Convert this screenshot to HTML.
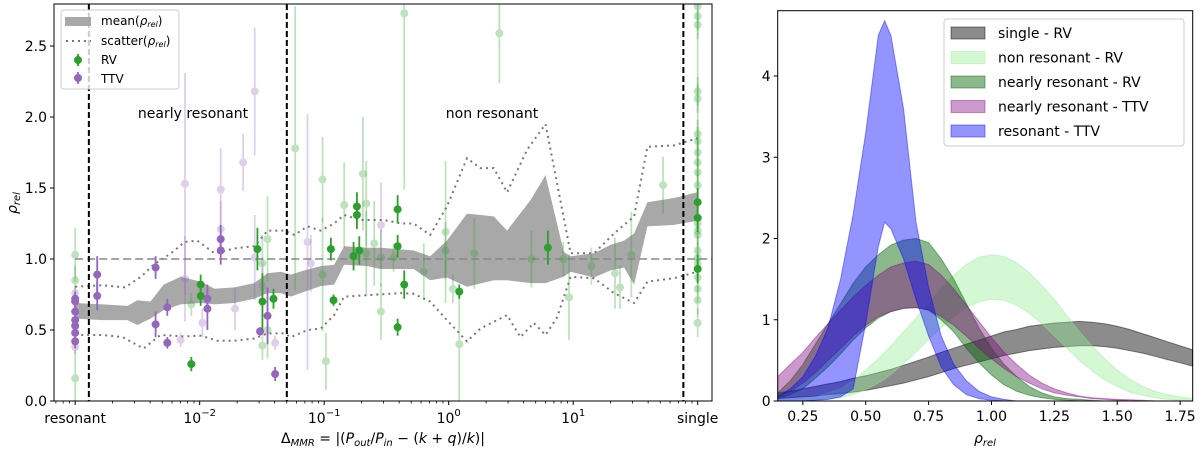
<!DOCTYPE html>
<html><head><meta charset="utf-8"><style>
body{margin:0;background:#fff}
svg{display:block;font-family:"DejaVu Sans","Liberation Sans",sans-serif}
</style></head><body>
<svg id="fig" width="1200" height="451" viewBox="0 0 1200 451" xmlns="http://www.w3.org/2000/svg">
<g id="left"></g>
<g id="right"></g>
</svg>
<script>
// ---------- LEFT PANEL DATA ----------
const bandX=[-3.0,-2.78,-2.58,-2.5,-2.395,-2.29,-2.153,-1.99,-1.88,-1.723,-1.562,-1.455,-1.347,-1.267,-1.16,-1.027,-0.92,-0.84,-0.65,-0.55,-0.282,-0.148,-0.014,0.147,0.362,0.469,0.657,0.778,0.925,0.979,1.167,1.301,1.408,1.489,1.596,1.81,1.998];
const bandHi=[0.69,0.68,0.67,0.71,0.70,0.82,0.875,0.84,0.79,0.80,0.83,0.90,0.91,0.89,0.92,0.95,0.96,1.09,1.08,1.08,1.06,1.02,1.13,1.32,1.30,1.20,1.415,1.59,1.05,1.02,1.04,1.10,1.13,1.18,1.40,1.43,1.47];
const bandLo=[0.58,0.57,0.57,0.535,0.58,0.64,0.68,0.69,0.68,0.69,0.72,0.76,0.76,0.735,0.77,0.81,0.82,0.96,0.95,0.93,0.93,0.85,0.87,0.805,0.85,0.85,0.83,0.83,0.875,0.91,0.87,0.92,0.94,0.82,1.23,1.24,1.27];
const scHiX=[-3.0,-2.78,-2.6,-2.47,-2.37,-2.23,-2.12,-2.02,-1.88,-1.72,-1.56,-1.455,-1.32,-1.24,-1.133,-1.027,-0.92,-0.84,-0.71,-0.52,-0.38,-0.282,-0.148,-0.014,0.147,0.254,0.362,0.469,0.63,0.778,0.872,0.979,1.167,1.328,1.489,1.596,1.81,1.998];
const scHi=[0.805,0.815,0.8,0.876,0.96,1.04,1.12,1.13,1.04,1.075,1.09,1.20,1.20,1.17,1.23,1.20,1.25,1.31,1.275,1.275,1.25,1.25,1.17,1.37,1.71,1.64,1.64,1.47,1.77,1.95,1.53,1.04,1.04,1.18,1.30,1.79,1.80,1.85];
const scLoX=[-3.0,-2.78,-2.62,-2.45,-2.316,-2.13,-1.99,-1.86,-1.72,-1.56,-1.455,-1.32,-1.267,-1.133,-1.027,-0.92,-0.84,-0.65,-0.383,-0.282,-0.148,-0.014,0.147,0.254,0.469,0.576,0.684,0.778,0.872,0.979,1.167,1.328,1.489,1.596,1.81,1.998];
const scLo=[0.465,0.465,0.45,0.37,0.465,0.455,0.46,0.425,0.425,0.44,0.476,0.476,0.45,0.50,0.51,0.605,0.735,0.745,0.76,0.755,0.70,0.57,0.42,0.51,0.605,0.45,0.55,0.465,0.59,0.875,0.865,0.76,0.69,0.84,0.865,0.91];
// points: log10(Δ), rho, error, kind, faded
const ptX=[-3,-3,-3,-3,-3,-3,-3,-3,-3,-3,-3,-3,-2.823,-2.823,-2.354,-2.354,-2.26,-2.26,-2.153,-2.118,-2.118,-2.067,-2.067,-1.992,-1.992,-1.978,-1.938,-1.938,-1.831,-1.831,-1.831,-1.831,-1.716,-1.651,-1.558,-1.558,-1.536,-1.515,-1.496,-1.496,-1.496,-1.496,-1.455,-1.455,-1.455,-1.407,-1.394,-1.394,-1.233,-1.134,-1.107,-1.013,-1.013,-0.986,-0.946,-0.925,-0.839,-0.764,-0.737,-0.737,-0.718,-0.689,-0.662,-0.662,-0.598,-0.544,-0.544,-0.544,-0.41,-0.41,-0.41,-0.443,-0.357,-0.357,-0.2,-0.025,-0.025,0.034,0.085,0.085,0.206,0.407,0.665,0.797,0.92,0.966,1.146,1.336,1.376,1.467,1.722,2,2,2,2,2,2,2,2,2,2,2,2,2,2,2,2,2,2,2,2,2,2,2,2];
const ptY=[1.03,0.85,0.16,0.72,0.70,0.63,0.57,0.53,0.48,0.42,0.76,0.38,0.89,0.74,0.94,0.54,0.66,0.41,0.43,1.53,0.86,0.68,0.26,0.82,0.74,0.55,0.72,0.65,1.49,1.21,1.14,1.06,0.65,1.68,2.18,1.01,1.07,0.49,0.81,0.97,0.70,0.39,1.14,0.60,0.50,0.72,0.41,0.19,1.78,1.12,0.97,0.89,1.56,0.28,1.07,0.71,1.38,1.02,1.31,1.37,1.06,1.60,1.39,1.04,1.11,1.01,1.24,0.63,1.35,1.09,0.52,1.01,2.73,0.82,0.91,1.19,1.06,0.79,0.77,0.40,1.04,2.59,1.0,1.08,1.0,0.73,0.95,0.90,0.80,1.03,1.52,2.78,2.71,2.65,2.18,2.13,1.88,1.83,1.75,1.68,1.61,1.52,1.40,1.29,1.25,1.20,1.17,1.06,1.01,0.97,0.93,0.87,0.79,0.71,0.55];
const ptErr=[0.19,0.1,0.2,0.05,0.05,0.05,0.05,0.05,0.05,0.05,0.05,0.05,0.13,0.1,0.08,0.09,0.06,0.04,0.05,0.78,0.3,0.08,0.05,0.07,0.07,0.1,0.1,0.15,0.29,0.2,0.1,0.1,0.15,0.2,0.45,0.3,0.15,0.03,0.2,0.2,0.2,0.1,0.3,0.2,0.2,0.07,0.05,0.05,1.0,0.9,0.2,0.4,0.3,0.2,0.08,0.04,0.3,0.1,0.1,0.1,0.1,0.4,0.3,0.3,0.3,0.2,0.3,0.2,0.1,0.08,0.06,0.1,1.24,0.1,0.2,0.5,0.2,0.1,0.05,0.4,0.25,0.35,0.2,0.12,0.12,0.3,0.13,0.25,0.15,0.3,0.2,1.3,0.1,0.1,0.1,0.1,0.1,0.1,0.1,0.1,0.1,0.1,0.1,0.1,0.1,0.1,0.1,0.1,0.1,0.1,0.1,0.1,0.1,0.1,0.1];
const ptKind=["RV","RV","RV","TTV","TTV","TTV","TTV","TTV","TTV","TTV","TTV","TTV","TTV","TTV","TTV","TTV","TTV","TTV","TTV","TTV","TTV","RV","RV","RV","RV","TTV","TTV","TTV","TTV","TTV","TTV","TTV","TTV","TTV","TTV","TTV","RV","TTV","TTV","RV","RV","RV","RV","TTV","RV","RV","TTV","TTV","RV","TTV","TTV","RV","RV","RV","RV","RV","RV","RV","RV","RV","RV","RV","RV","RV","RV","RV","TTV","RV","RV","RV","RV","RV","RV","RV","RV","RV","RV","RV","RV","RV","RV","RV","RV","RV","RV","RV","RV","RV","RV","RV","RV","RV","RV","RV","RV","RV","RV","RV","RV","RV","RV","RV","RV","RV","RV","RV","RV","RV","RV","RV","RV","RV","RV","RV","RV"];
const ptFaded=[1,1,1,0,0,0,0,0,0,0,1,1,0,0,0,0,0,0,1,1,1,1,0,0,0,1,0,0,1,1,0,0,1,1,1,1,0,0,1,1,0,1,1,0,1,0,1,0,1,1,1,1,1,1,0,0,1,0,0,0,0,1,1,1,1,1,1,1,0,0,0,1,1,0,1,1,1,1,0,1,1,1,1,0,1,1,1,1,1,1,1,1,1,1,1,1,1,1,1,1,1,1,0,0,1,1,1,1,1,1,0,1,1,1,1];
const xTickLog=[-3,-2,-1,0,1,2];
const xTickLbl=["resonant","10<tspan dy='-7' font-size='10'>−2</tspan>","10<tspan dy='-7' font-size='10'>−1</tspan>","10<tspan dy='-7' font-size='10'>0</tspan>","10<tspan dy='-7' font-size='10'>1</tspan>","single"];
const yTicks=[0,0.5,1.0,1.5,2.0,2.5];
const vLines=[-2.89,-1.30,1.885];

// ---------- RIGHT PANEL DATA ----------
const rx=[0.15,0.2,0.25,0.3,0.35,0.4,0.45,0.5,0.55,0.575,0.6,0.65,0.7,0.75,0.8,0.85,0.9,0.95,1.0,1.05,1.1,1.15,1.2,1.25,1.3,1.35,1.4,1.45,1.5,1.55,1.6,1.65,1.7,1.75,1.8];
const singleHi=[0.1,0.12,0.15,0.18,0.21,0.24,0.28,0.31,0.35,0.37,0.39,0.44,0.49,0.54,0.6,0.65,0.7,0.75,0.8,0.85,0.88,0.92,0.94,0.96,0.97,0.98,0.97,0.95,0.92,0.88,0.83,0.78,0.73,0.68,0.63];
const singleLo=[0.03,0.04,0.05,0.06,0.08,0.09,0.11,0.13,0.16,0.175,0.19,0.22,0.26,0.3,0.35,0.4,0.44,0.48,0.52,0.56,0.59,0.62,0.64,0.66,0.67,0.68,0.68,0.67,0.65,0.62,0.59,0.55,0.51,0.47,0.43];
const nonHi=[0.02,0.03,0.04,0.05,0.1,0.15,0.25,0.38,0.52,0.6,0.68,0.85,1.02,1.2,1.38,1.55,1.68,1.77,1.8,1.78,1.7,1.58,1.42,1.25,1.05,0.85,0.68,0.52,0.38,0.27,0.18,0.12,0.08,0.05,0.03];
const nonLo=[0,0,0,0.01,0.02,0.04,0.08,0.14,0.22,0.27,0.33,0.46,0.6,0.76,0.9,1.04,1.15,1.22,1.25,1.24,1.18,1.08,0.95,0.8,0.65,0.5,0.37,0.26,0.18,0.11,0.07,0.04,0.02,0.01,0.01];
const nrRvHi=[0.1,0.25,0.45,0.7,0.95,1.2,1.45,1.65,1.8,1.86,1.92,1.98,2.0,1.95,1.75,1.5,1.2,0.9,0.65,0.45,0.3,0.18,0.1,0.05,0.03,0.02,0.01,0,0,0,0,0,0,0,0];
const nrRvLo=[0.03,0.08,0.15,0.28,0.42,0.58,0.75,0.9,1.02,1.06,1.1,1.14,1.15,1.12,1.0,0.85,0.65,0.47,0.32,0.2,0.12,0.07,0.04,0.02,0.01,0,0,0,0,0,0,0,0,0,0];
const nrTtvHi=[0.3,0.45,0.6,0.78,0.95,1.12,1.28,1.42,1.55,1.6,1.65,1.7,1.72,1.68,1.55,1.38,1.18,0.98,0.78,0.6,0.45,0.32,0.22,0.15,0.1,0.06,0.04,0.03,0.02,0.015,0.01,0,0,0,0];
const nrTtvLo=[0.05,0.12,0.22,0.35,0.5,0.65,0.8,0.93,1.04,1.07,1.1,1.14,1.15,1.12,1.04,0.93,0.8,0.65,0.52,0.4,0.3,0.22,0.15,0.1,0.07,0.05,0.03,0.02,0.01,0,0,0,0,0,0];
const resHi=[0.05,0.15,0.3,0.55,0.9,1.5,2.3,3.3,4.5,4.68,4.5,3.6,2.2,1.4,0.8,0.45,0.25,0.12,0.05,0.02,0,0,0,0,0,0,0,0,0,0,0,0,0,0,0];
const resLo=[0,0,0,0.01,0.02,0.05,0.15,0.95,1.9,2.2,2.12,1.75,1.25,0.8,0.42,0.2,0.08,0.03,0.01,0,0,0,0,0,0,0,0,0,0,0,0,0,0,0,0];
const rXTicks=[0.25,0.5,0.75,1.0,1.25,1.5,1.75];
const rYTicks=[0,1,2,3,4];

// ---------- HELPERS ----------
const NS="http://www.w3.org/2000/svg";
function mk(parent,tag,attrs){const e=document.createElementNS(NS,tag);for(const k in attrs)e.setAttribute(k,attrs[k]);parent.appendChild(e);return e;}
const L=document.getElementById('left'), R=document.getElementById('right');
const lx0=54,lx1=712,ly0=401,ly1=4;
const lxLog0=-3.17,lxLog1=2.115,lyMax=2.796;
const LX=v=>lx0+(v-lxLog0)/(lxLog1-lxLog0)*(lx1-lx0);
const LY=v=>ly0-v/lyMax*(ly0-ly1);
const clipL=mk(L,'clipPath',{id:'clipL'});mk(clipL,'rect',{x:lx0,y:ly1,width:lx1-lx0,height:ly0-ly1});
const pg=mk(L,'g',{'clip-path':'url(#clipL)'});

let d='';bandX.forEach((x,i)=>{d+=(i?'L':'M')+LX(x).toFixed(1)+' '+LY(bandHi[i]).toFixed(1);});
for(let i=bandX.length-1;i>=0;i--)d+='L'+LX(bandX[i]).toFixed(1)+' '+LY(bandLo[i]).toFixed(1);
let el=mk(pg,'path',{d:d+'Z',fill:'#a8a8a8'});



function poly(xs,ys){return xs.map((x,i)=>LX(x).toFixed(1)+','+LY(ys[i]).toFixed(1)).join(' ');}
el=mk(pg,'polyline',{points:poly(scHiX,scHi),fill:'none',stroke:'#777','stroke-width':2,'stroke-dasharray':'2,4'});


el=mk(pg,'polyline',{points:poly(scLoX,scLo),fill:'none',stroke:'#777','stroke-width':2,'stroke-dasharray':'2,4'});


el=mk(pg,'line',{x1:LX(-3.0),x2:lx1,y1:LY(1),y2:LY(1),stroke:'#888','stroke-width':1.5,'stroke-dasharray':'8,4'});



[1,0].forEach(f=>{
 ptX.forEach((x,i)=>{
  if(ptFaded[i]!==f)return;
  const col=ptKind[i]==='RV'?'#2ca02c':'#9467bd';
  const op=f?0.3:1;
  const g=mk(pg,'g',{opacity:op});
  
  
  mk(g,'line',{x1:LX(x),x2:LX(x),y1:LY(Math.max(0,ptY[i]-ptErr[i])),y2:LY(ptY[i]+ptErr[i]),stroke:col,'stroke-width':1.8});
  mk(g,'circle',{cx:LX(x),cy:LY(ptY[i]),r:4,fill:col});
 });
});
vLines.forEach((v,i)=>{
 el=mk(pg,'line',{x1:LX(v),x2:LX(v),y1:ly1,y2:ly0,stroke:'#000','stroke-width':2,'stroke-dasharray':'6,3'});
 
 
});
el=mk(L,'rect',{x:lx0,y:ly1,width:lx1-lx0,height:ly0-ly1,fill:'none',stroke:'#000','stroke-width':1});


yTicks.forEach(t=>{
 mk(L,'line',{x1:lx0-4,x2:lx0,y1:LY(t),y2:LY(t),stroke:'#000'});
 el=mk(L,'text',{x:lx0-7,y:LY(t)+5,'text-anchor':'end','font-size':14});el.textContent=t.toFixed(1);
 
 
});
for(let dcd=-4;dcd<=2;dcd++){for(let m=2;m<=9;m++){const v=dcd+Math.log10(m);if(v<lxLog0||v>lxLog1)continue;mk(L,'line',{x1:LX(v),x2:LX(v),y1:ly0,y2:ly0+2.5,stroke:'#000','stroke-width':0.8});}}
xTickLog.forEach((t,i)=>{
 mk(L,'line',{x1:LX(t),x2:LX(t),y1:ly0,y2:ly0+4,stroke:'#000'});
 el=mk(L,'text',{x:LX(t),y:ly0+22,'text-anchor':'middle','font-size':14});el.innerHTML=xTickLbl[i];
 
 
});
el=mk(L,'text',{x:383,y:443,'text-anchor':'middle','font-size':14});
el.innerHTML="Δ<tspan font-size='10' font-style='italic' dy='3'>MMR</tspan><tspan dy='-3'> = |(</tspan><tspan font-style='italic'>P</tspan><tspan font-size='10' font-style='italic' dy='3'>out</tspan><tspan dy='-3'>/</tspan><tspan font-style='italic'>P</tspan><tspan font-size='10' font-style='italic' dy='3'>in</tspan><tspan dy='-3'> − (</tspan><tspan font-style='italic'>k</tspan> + <tspan font-style='italic'>q</tspan>)/<tspan font-style='italic'>k</tspan>)|";


el=mk(L,'text',{x:0,y:0,'text-anchor':'middle','font-size':14,transform:'translate(17,203) rotate(-90)'});
el.innerHTML="<tspan font-style='italic'>ρ</tspan><tspan font-size='10' font-style='italic' dy='3'>rel</tspan>";


el=mk(L,'text',{x:193,y:118,'text-anchor':'middle','font-size':14});el.textContent='nearly resonant';


el=mk(L,'text',{x:492,y:118,'text-anchor':'middle','font-size':14});el.textContent='non resonant';


const lg=mk(L,'g',{});


mk(lg,'rect',{x:61,y:10,width:118,height:79,rx:3,fill:'#fff','fill-opacity':0.8,stroke:'#ccc'});
mk(lg,'rect',{x:65,y:17,width:26,height:9,fill:'#a8a8a8'});
mk(lg,'line',{x1:66,x2:91,y1:41,y2:41,stroke:'#777','stroke-width':2,'stroke-dasharray':'2,4'});
mk(lg,'line',{x1:78,x2:78,y1:54,y2:66,stroke:'#2ca02c','stroke-width':1.8});mk(lg,'circle',{cx:78,cy:60,r:4,fill:'#2ca02c'});
mk(lg,'line',{x1:78,x2:78,y1:72,y2:84,stroke:'#9467bd','stroke-width':1.8});mk(lg,'circle',{cx:78,cy:78,r:4,fill:'#9467bd'});
[["mean(<tspan font-style='italic'>ρ</tspan><tspan font-size='8' font-style='italic' dy='2'>rel</tspan><tspan dy='-2'>)</tspan>",25],["scatter(<tspan font-style='italic'>ρ</tspan><tspan font-size='8' font-style='italic' dy='2'>rel</tspan><tspan dy='-2'>)</tspan>",45],["RV",64],["TTV",83]].forEach(a=>{
 const t=mk(lg,'text',{x:101,y:a[1],'font-size':12});t.innerHTML=a[0];
 
 
});

// ---------- RIGHT ----------
const rx0=777.7,rx1=1192.7,ry0=401,ry1=10.7;
const RX=v=>rx0+(v-0.15)/(1.8-0.15)*(rx1-rx0);
const RY=v=>ry0-v*81.25;
const clipR=mk(R,'clipPath',{id:'clipR'});mk(clipR,'rect',{x:rx0,y:ry1,width:rx1-rx0,height:ry0-ry1});
const rg=mk(R,'g',{'clip-path':'url(#clipR)'});
const series=[['single-rv',singleHi,singleLo,'#000000',0.45],['non-resonant-rv',nonHi,nonLo,'#90ee90',0.4],['nearly-resonant-rv',nrRvHi,nrRvLo,'#006400',0.45],['nearly-resonant-ttv',nrTtvHi,nrTtvLo,'#800080',0.4],['resonant-ttv',resHi,resLo,'#0000ff',0.42]];
series.forEach(s=>{
 let p='';rx.forEach((x,i)=>{p+=(i?'L':'M')+RX(x).toFixed(1)+' '+RY(s[1][i]).toFixed(1);});
 for(let i=rx.length-1;i>=0;i--)p+='L'+RX(rx[i]).toFixed(1)+' '+RY(s[2][i]).toFixed(1);
 const e=mk(rg,'path',{d:p+'Z',fill:s[3],'fill-opacity':s[4],stroke:s[3],'stroke-opacity':s[4],'stroke-width':1});
 
 
});
el=mk(R,'rect',{x:rx0,y:ry1,width:rx1-rx0,height:ry0-ry1,fill:'none',stroke:'#000'});


rXTicks.forEach(t=>{
 mk(R,'line',{x1:RX(t),x2:RX(t),y1:ry0,y2:ry0+4,stroke:'#000'});
 el=mk(R,'text',{x:RX(t),y:ry0+20,'text-anchor':'middle','font-size':14});el.textContent=t.toFixed(2);
 
 
});
rYTicks.forEach(t=>{
 mk(R,'line',{x1:rx0-4,x2:rx0,y1:RY(t),y2:RY(t),stroke:'#000'});
 el=mk(R,'text',{x:rx0-7,y:RY(t)+5,'text-anchor':'end','font-size':14});el.textContent=t;
 
 
});
el=mk(R,'text',{x:985,y:443,'text-anchor':'middle','font-size':14});
el.innerHTML="<tspan font-style='italic'>ρ</tspan><tspan font-size='10' font-style='italic' dy='3'>rel</tspan>";


const rl=mk(R,'g',{});


mk(rl,'rect',{x:944,y:19,width:240,height:127,rx:3,fill:'#fff','fill-opacity':0.8,stroke:'#ccc'});
const lnames=['single - RV','non resonant - RV','nearly resonant - RV','nearly resonant - TTV','resonant - TTV'];
series.forEach((s,i)=>{
 const y=33+i*24.5;
 mk(rl,'rect',{x:951,y:y-6,width:34,height:12,fill:s[3],'fill-opacity':s[4],stroke:s[3],'stroke-opacity':s[4]});
 const t=mk(rl,'text',{x:998,y:y+5,'font-size':14});t.textContent=lnames[i];
 
 
});
</script>
</body></html>
